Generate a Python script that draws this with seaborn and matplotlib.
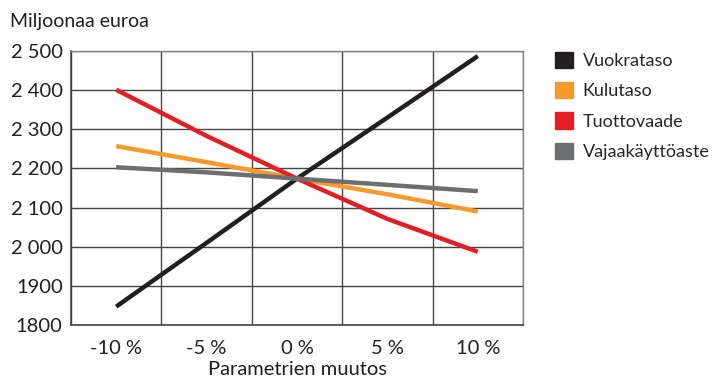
import matplotlib
matplotlib.use("Agg")
import matplotlib.pyplot as plt
from matplotlib.patches import Patch
import seaborn as sns
import pandas as pd

categories = ["-10\u202f%", "-5\u202f%", "0\u202f%", "5\u202f%", "10\u202f%"]
series_names = ["Vuokrataso", "Kulutaso", "Tuottovaade", "Vajaakäyttöaste"]
vuokrataso = [1847, 2010, 2174, 2330, 2487]
kulutaso = [2257, 2216, 2174, 2134, 2090]
tuottovaade = [2401, 2283, 2174, 2071, 1987]
vajaakayttoaste = [2203, 2190, 2174, 2158, 2142]
y_ticks = [1800, 1900, 2000, 2100, 2200, 2300, 2400, 2500]
y_labels = ["1800", "1900", "2\u202f000", "2\u202f100", "2\u202f200", "2\u202f300", "2\u202f400", "2\u202f500"]
colors = ["#231f20", "#f7992b", "#e31e24", "#6d6e70"]

sns.set_theme(style="white")
plt.rcParams["font.family"] = ["Lato", "DejaVu Sans"]
text_color = "#231f20"

# Long-form table: one row per (series, parameter change) point
rows = []
for name, vals in zip(series_names, [vuokrataso, kulutaso, tuottovaade, vajaakayttoaste]):
    for i, v in enumerate(vals):
        rows.append({"pos": i, "value": v, "series": name})
df = pd.DataFrame(rows)

fig = plt.figure(figsize=(7.23, 3.79), dpi=100)
ax = fig.add_axes([71 / 723, 1 - 325 / 379, (523 - 71) / 723, (325 - 51) / 379])

sns.lineplot(data=df, x="pos", y="value", hue="series", hue_order=series_names,
             palette=colors, linewidth=3.2, legend=False, ax=ax,
             solid_capstyle="butt", zorder=3)

ax.set_xlim(-0.5, 4.5)
ax.set_ylim(1800, 2500)
ax.set_xticks(range(len(categories)))
ax.set_xticklabels(categories)
ax.set_yticks(y_ticks)
ax.set_yticklabels(y_labels)
# Vertical grid lines sit between the categories
ax.set_xticks([-0.5, 0.5, 1.5, 2.5, 3.5, 4.5], minor=True)
ax.grid(False)
ax.grid(True, which="minor", axis="x", color="#444444", linewidth=1.0)
ax.grid(True, which="major", axis="y", color="#444444", linewidth=1.0)
ax.tick_params(axis="both", which="both", length=0, labelsize=14.5, colors=text_color)
ax.tick_params(axis="x", pad=11)
ax.tick_params(axis="y", pad=6)
for side in ["left", "bottom"]:
    ax.spines[side].set_color("#444444")
    ax.spines[side].set_linewidth(1.2)
for side in ["right", "top"]:
    ax.spines[side].set_color("#888888")
    ax.spines[side].set_linewidth(1.0)

ax.set_xlabel("Parametrien muutos", fontsize=14.5, color=text_color, labelpad=3)
ax.set_ylabel("")
fig.text(10 / 723, 1 - 22 / 379, "Miljoonaa euroa", fontsize=14,
         color=text_color, va="center", ha="left")

handles = [Patch(facecolor=c, edgecolor=c) for c in colors]
fig.legend(handles, series_names, loc="upper left", bbox_to_anchor=(0.757, 0.882),
           frameon=False, handlelength=1.0, handleheight=1.0,
           handletextpad=0.55, labelspacing=0.72, borderaxespad=0,
           prop={"size": 13})

fig.savefig("out.png", dpi=100)
